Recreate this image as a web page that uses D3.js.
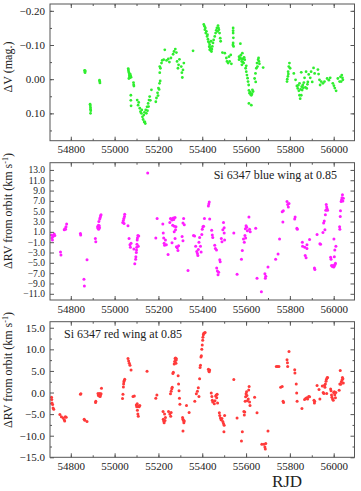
<!DOCTYPE html>
<html>
  <head>
    <meta charset="utf-8">
    <script src="https://d3js.org/d3.v7.min.js"></script>
    <style>
      body { margin: 0; background: #fff; }
      svg text { font-family: "Liberation Serif", "Times New Roman", serif; fill: #222; }
    </style>
  </head>
  <body>
    <div id="chart"></div>
    <script>
      // x range shared by all three panels (RJD)
      var rjdDomain = [54705, 56095];
      var rjdTicks = [54800, 55000, 55200, 55400, 55600, 55800, 56000];

      // panel 1 : delta V (mag.)
      var dvTicks = [-0.20, -0.10, 0.00, 0.10];
      var dvPoints = [
        [54863,-0.026],[54864,-0.022],[54865,-0.019],[54866,-0.024],
        [54888,0.073],[54889,0.078],[54890,0.083],[54890,0.088],[54891,0.092],[54890,0.100],
        [54931,0.003],[54932,0.007],[54933,0.011],
        [55062,-0.031],[55063,-0.027],[55064,-0.022],[55066,-0.018],[55067,-0.012],[55068,-0.008],[55070,-0.004],
        [55071,-0.015],[55073,-0.010],[55075,-0.006],[55065,-0.002],
        [55086,0.010],[55087,0.016],[55088,0.020],
        [55074,0.047],[55074,0.062],[55075,0.078],
        [55103,0.061],[55107,0.076],[55110,0.068],[55115,0.085],[55118,0.095],[55122,0.100],[55124,0.090],
        [55127,0.110],[55130,0.118],[55133,0.105],[55135,0.125],[55138,0.125],[55140,0.130],[55136,0.097],
        [55142,0.090],[55145,0.100],[55148,0.081],[55150,0.092],[55153,0.071],[55155,0.080],[55157,0.061],
        [55160,0.051],[55163,0.062],[55168,0.031],
        [55188,0.066],[55191,0.055],[55196,0.040],[55198,0.048],[55200,0.026],[55203,0.030],[55205,0.012],[55208,0.005],
        [55206,-0.019],[55209,-0.032],[55206,-0.037],[55214,-0.047],[55217,-0.055],[55224,-0.057],[55229,-0.086],
        [55237,-0.055],[55245,-0.059],[55250,-0.050],[55257,-0.062],
        [55267,-0.073],[55271,-0.081],[55277,-0.088],[55282,-0.078],
        [55285,-0.052],[55289,-0.032],[55292,-0.042],[55296,-0.058],[55304,-0.037],[55307,-0.019],[55309,-0.005],
        [55312,-0.027],[55316,-0.047],
        [55358,-0.083],
        [55407,-0.160],[55410,-0.155],[55412,-0.145],[55414,-0.150],[55416,-0.135],[55419,-0.140],[55422,-0.125],
        [55424,-0.130],[55426,-0.117],[55428,-0.110],[55431,-0.107],[55432,-0.095],[55434,-0.101],[55434,-0.086],
        [55436,-0.092],[55437,-0.091],[55439,-0.084],[55440,-0.111],[55442,-0.081],[55444,-0.088],[55446,-0.096],
        [55449,-0.106],[55452,-0.115],
        [55457,-0.125],[55461,-0.135],[55464,-0.143],[55467,-0.150],[55470,-0.140],[55472,-0.157],[55474,-0.150],
        [55476,-0.145],[55479,-0.135],[55482,-0.120],[55484,-0.111],
        [55492,-0.078],
        [55503,-0.076],[55510,-0.062],[55513,-0.052],[55518,-0.047],[55522,-0.066],[55525,-0.052],[55530,-0.071],[55533,-0.045],
        [55541,-0.150],[55541,-0.142],[55541,-0.135],[55542,-0.121],[55541,-0.106],[55543,-0.096],[55540,-0.100],
        [55568,-0.066],[55571,-0.062],[55574,-0.104],[55576,-0.070],[55580,-0.052],[55583,-0.076],[55586,-0.059],
        [55589,-0.047],[55581,-0.042],[55594,-0.057],[55568,-0.057],[55578,-0.060],[55585,-0.050],[55591,-0.064],
        [55598,-0.032],[55601,-0.022],[55604,-0.012],[55607,-0.003],[55609,0.007],[55612,0.017],[55601,-0.039],
        [55613,0.033],[55616,0.041],[55619,0.038],[55621,0.045],[55624,0.047],[55627,0.043],[55632,0.036],[55629,0.031],
        [55613,0.071],[55624,0.076],
        [55639,-0.002],[55643,-0.017],[55644,0.008],[55647,-0.032],[55650,-0.047],[55652,-0.037],[55655,-0.057],
        [55657,-0.062],[55659,-0.052],[55661,-0.045],
        [55678,-0.034],
        [55787,0.007],[55788,0.000],[55791,-0.008],[55792,-0.022],[55793,-0.015],[55795,-0.037],[55798,-0.047],[55801,-0.032],
        [55818,-0.017],[55826,0.002],[55832,0.020],[55836,0.027],[55838,0.018],[55841,0.034],[55844,0.047],[55844,0.012],
        [55847,0.057],[55849,0.030],[55852,0.047],[55852,-0.020],[55854,0.022],[55856,0.032],[55859,0.017],[55861,0.025],
        [55864,0.010],[55867,-0.004],[55871,0.024],[55874,-0.022],[55877,0.027],[55880,0.015],[55882,0.008],
        [55886,-0.014],[55893,-0.004],[55897,-0.022],[55902,0.008],[55908,-0.033],[55913,-0.017],
        [55928,-0.028],[55931,-0.015],[55935,0.002],[55938,0.017],[55943,0.007],
        [55951,0.012],[55958,0.007],[55970,-0.002],[55978,0.003],[55984,-0.004],
        [55996,0.012],[56001,0.019],[56005,0.026],[56011,0.034],
        [56019,-0.002],[56027,0.007],[56031,-0.007],[56034,0.007],[56037,-0.012],[56040,-0.004],[56042,0.002]
      ];

      // panel 2 : Si 6347 blue wing, delta RV (km/s)
      var blueTicks = [13, 11, 9, 7, 5, 3, 1, -1, -3, -5, -7, -9, -11];
      var bluePoints = [
        [54712,0.4],[54714,-0.2],[54716,-0.6],[54719,0.1],[54724,0.6],[54727,0.3],
        [54753,-2.9],[54755,-3.5],
        [54770,1.4],[54773,1.6],[54776,1.5],[54778,2.0],[54781,2.5],
        [54844,0.7],[54845,0.4],
        [54860,-8.2],[54862,-9.5],
        [54874,-4.4],
        [54912,-0.3],[54914,-0.9],
        [54922,2.0],[54924,1.7],[54926,2.3],[54927,1.5],[54928,3.0],[54930,2.2],[54931,1.8],[54932,3.5],[54934,3.8],
        [54936,4.1],[54938,4.3],
        [55037,2.8],[55040,3.2],[55042,3.6],[55043,2.6],[55045,4.0],[55046,4.4],
        [55061,2.2],
        [55066,-0.3],[55070,-1.5],[55072,-2.0],[55075,-1.2],
        [55088,-2.3],[55092,-5.2],
        [55096,-4.3],[55097,-3.8],[55099,-3.0],[55100,-2.5],[55101,-2.0],[55102,-1.4],[55103,-0.6],[55104,-0.2],
        [55106,0.3],[55108,-1.8],[55110,0.2],
        [55151,12.4],
        [55188,-0.2],[55194,3.6],
        [55220,2.5],[55222,0.8],[55224,-0.2],[55226,-1.2],[55228,-1.6],[55232,-0.6],[55236,-1.5],
        [55244,-3.4],
        [55252,2.8],[55255,3.6],[55258,3.5],[55262,3.3],[55265,2.3],[55268,3.7],[55270,3.4],[55273,2.1],[55276,3.8],
        [55278,1.4],[55280,2.0],[55262,-1.1],[55272,1.0],[55276,-0.3],[55282,-1.9],[55286,-2.1],[55289,-2.6],[55292,-1.7],
        [55312,2.7],[55315,3.6],[55318,2.4],[55308,0.1],[55312,-0.7],
        [55335,-6.5],
        [55360,0.3],[55365,0.2],[55370,-1.8],[55375,-2.8],[55378,-3.2],[55380,-3.6],[55382,-2.4],[55385,-1.0],
        [55388,-0.1],[55392,-1.8],[55395,-2.9],[55398,0.5],[55400,1.5],[55403,2.0],[55406,2.1],[55410,3.6],
        [55428,6.0],[55430,6.4],[55432,6.8],[55434,3.5],
        [55443,1.3],[55446,0.4],[55448,-0.1],
        [55457,-1.6],[55460,-2.2],[55465,-2.5],
        [55466,-6.0],[55469,-6.6],[55472,-7.3],[55475,-6.8],
        [55480,-4.4],[55482,-4.8],
        [55487,-0.3],[55490,-0.9],[55494,1.4],[55497,2.8],[55500,1.8],[55500,0.8],[55502,-0.6],
        [55544,0.8],
        [55559,-7.2],
        [55579,-4.3],[55583,-2.6],
        [55588,-0.4],[55592,-1.0],[55595,0.3],[55598,-0.2],[55597,1.6],[55600,2.2],[55603,1.9],[55606,1.2],
        [55613,3.9],[55616,1.5],[55619,1.0],
        [55644,1.7],
        [55650,-8.0],
        [55670,-10.6],
        [55686,-7.1],[55688,-8.0],[55690,-7.6],
        [55700,-5.8],
        [55735,-4.3],[55746,-3.3],[55753,-0.4],
        [55765,4.9],[55768,2.9],[55770,5.1],
        [55787,6.9],[55790,6.3],[55793,5.8],[55796,6.5],
        [55822,3.5],[55824,3.9],[55832,1.7],[55834,1.5],
        [55857,-1.0],[55858,-1.8],
        [55868,-2.0],[55870,-3.6],[55874,-4.0],[55878,-2.2],[55878,-1.5],
        [55890,-0.5],
        [55912,-6.0],[55914,-6.3],
        [55924,0.5],
        [55937,-1.3],[55940,-1.4],
        [55951,0.9],
        [55954,2.7],[55957,3.1],[55960,1.4],[55962,4.3],[55964,5.2],[55966,6.3],[55968,5.8],[55970,5.5],[55972,5.2],
        [55986,-3.9],[55988,-4.3],[55990,-5.5],[55994,-5.7],[55997,-5.5],[56000,-5.8],[56003,-5.6],[56006,-5.3],[56008,-5.1],
        [56001,-0.4],[56003,-3.8],[56005,-2.5],[56010,-1.8],
        [56027,2.0],[56028,1.5],[56030,4.0],[56031,5.1],[56034,6.9],[56036,7.2],[56038,7.6],[56040,8.2],[56042,7.0],[56044,7.5]
      ];

      // panel 3 : Si 6347 red wing, delta RV (km/s)
      var redTicks = [15, 10, 5, 0, -5, -10, -15];
      var redPoints = [
        [54712,-1.1],[54713,-1.6],[54714,-2.4],[54717,-2.8],[54719,-3.6],[54722,-3.9],
        [54750,-5.1],[54757,-5.6],[54765,-5.9],[54770,-6.3],[54772,-6.6],[54775,-5.6],[54779,-5.7],
        [54844,-0.4],[54846,-0.3],
        [54861,-6.2],[54864,-6.4],[54874,-6.7],
        [54913,-2.3],[54914,-2.0],
        [54924,-0.2],[54926,-0.7],[54928,-0.4],[54930,-0.8],[54932,-0.2],[54934,-0.9],[54936,-0.5],[54938,-0.3],[54940,1.0],
        [55036,-1.4],[55038,-0.4],[55040,1.3],[55041,2.0],[55042,2.5],[55044,2.8],[55046,3.1],
        [55061,7.9],[55064,7.3],[55067,6.8],[55070,6.3],[55075,5.2],
        [55084,-0.9],[55090,-0.8],
        [55099,-2.9],[55101,-3.3],[55103,-2.6],[55104,-4.1],[55106,-5.0],[55108,-5.5],[55110,-3.1],[55112,-3.3],[55115,-3.0],
        [55148,4.9],
        [55188,-1.3],[55193,-0.6],
        [55221,-4.4],[55222,-6.2],[55224,-6.6],[55226,-7.0],[55228,-5.0],[55230,-6.5],[55232,-5.8],
        [55246,-4.4],[55252,-5.0],[55256,-5.5],[55258,-4.6],
        [55255,-0.3],[55258,0.3],[55261,0.9],[55263,1.2],[55266,4.4],[55268,4.7],
        [55272,6.6],[55274,7.2],[55276,7.9],[55278,8.0],[55280,7.5],[55282,7.8],[55280,6.8],
        [55290,3.9],[55292,2.0],[55294,0.4],[55296,-1.3],[55298,-2.7],
        [55310,-5.8],[55312,-6.2],[55314,-6.5],[55316,-7.0],[55318,-6.6],[55312,-8.9],
        [55328,-3.0],[55340,-4.6],
        [55366,-2.0],
        [55373,-0.3],[55378,0.3],[55382,1.1],[55385,-0.9],[55388,3.2],
        [55390,5.8],[55392,6.3],[55394,8.2],[55396,8.5],[55398,10.0],[55400,11.0],[55402,12.1],[55403,12.8],
        [55405,13.4],[55407,13.7],[55410,13.8],[55413,13.9],
        [55428,5.4],[55430,5.0],[55432,4.8],[55434,5.2],
        [55441,-0.1],[55444,-0.9],[55446,-1.8],[55448,-2.2],
        [55455,-2.6],[55458,-1.9],[55461,-0.8],[55464,-0.6],[55466,-1.2],[55468,-0.4],[55470,-2.4],
        [55478,-4.7],[55480,-5.3],[55483,-5.9],[55486,-6.3],[55490,-6.0],[55494,-6.7],[55497,-7.2],[55500,-7.6],
        [55502,-5.3],[55499,-9.1],
        [55544,3.0],
        [55559,-5.9],
        [55579,-11.2],[55583,-9.1],
        [55590,-4.4],[55592,-5.2],[55594,-4.5],
        [55596,-2.0],[55598,-1.0],[55600,-0.3],[55602,0.2],[55604,-0.7],[55606,-1.9],[55610,-1.5],[55612,0.6],
        [55614,1.4],[55616,-2.2],[55618,-3.0],
        [55639,-1.1],[55650,-4.7],
        [55672,-12.0],[55682,-12.0],[55686,-12.6],[55688,-13.1],[55690,-11.8],
        [55700,-8.9],
        [55738,6.0],[55744,6.0],[55750,6.0],
        [55758,1.2],[55765,1.4],[55769,-2.0],[55771,-2.3],
        [55787,7.6],[55789,6.9],[55790,6.0],[55796,9.5],
        [55822,5.3],[55823,4.5],[55829,2.0],[55831,-0.1],[55833,-2.0],
        [55855,-3.7],
        [55867,-1.6],[55872,-1.4],[55877,-1.2],[55881,-1.5],[55886,-0.9],[55890,-1.0],
        [55910,-1.8],[55912,-2.4],[55913,-2.0],
        [55924,1.6],[55933,0.7],[55937,-1.5],
        [55948,1.5],[55952,0.0],[55955,-0.2],[55958,1.7],[55960,1.2],[55962,2.0],[55965,2.6],[55967,3.1],
        [55968,-0.2],[55970,3.4],[55972,3.5],
        [55986,0.8],[55988,0.4],[55990,-0.6],[55992,-1.1],[55995,-1.5],[55998,-1.8],[56000,0.0],[56003,0.2],
        [56005,-0.5],[56008,-1.2],[56010,0.0],
        [56025,0.5],[56028,2.0],[56030,5.1],[56032,1.9],[56035,2.5],[56038,2.9],[56040,3.5],[56042,3.2],[56044,2.2]
      ];

      var width = 361, height = 491;
      var left = 50, right = 354.5;

      var svg = d3.select("#chart").append("svg")
                  .attr("width", width)
                  .attr("height", height);

      var x = d3.scaleLinear().domain(rjdDomain).range([left, right]);

      // one function per panel, keeps the three blocks alike
      function panel(top, bottom, yScale, majors, minors, fmt, yFont, pts, color, r){
        var g = svg.append("g");

        // minor ticks first, then majors
        var xMinor = d3.range(54800, 56100, 100);
        g.append("g").attr("transform", "translate(0," + bottom + ")")
          .call(d3.axisBottom(x).tickValues(xMinor).tickSize(-2).tickFormat(""));
        g.append("g").attr("transform", "translate(0," + top + ")")
          .call(d3.axisTop(x).tickValues(xMinor).tickSize(-2).tickFormat(""));
        g.append("g").attr("class", "xlab").attr("transform", "translate(0," + bottom + ")")
          .call(d3.axisBottom(x).tickValues(rjdTicks).tickSize(-4).tickPadding(5).tickFormat(d3.format("d")));
        g.append("g").attr("transform", "translate(0," + top + ")")
          .call(d3.axisTop(x).tickValues(rjdTicks).tickSize(-4).tickFormat(""));

        g.append("g").attr("transform", "translate(" + left + ",0)")
          .call(d3.axisLeft(yScale).tickValues(minors).tickSize(-2).tickFormat(""));
        g.append("g").attr("transform", "translate(" + right + ",0)")
          .call(d3.axisRight(yScale).tickValues(minors).tickSize(-2).tickFormat(""));
        g.append("g").attr("class", "ylab").attr("transform", "translate(" + left + ",0)")
          .call(d3.axisLeft(yScale).tickValues(majors).tickSize(-4).tickPadding(5).tickFormat(fmt));
        g.append("g").attr("transform", "translate(" + right + ",0)")
          .call(d3.axisRight(yScale).tickValues(majors).tickSize(-4).tickFormat(""));

        g.selectAll(".domain").remove();
        g.selectAll(".tick line").attr("stroke", "#555");
        g.selectAll(".tick text")
          .style("font-family", "'Liberation Serif', 'Times New Roman', serif")
          .style("font-size", "11px")
          .attr("fill", "#222");
        g.selectAll(".ylab .tick text").style("font-size", yFont);

        g.append("g").selectAll("circle")
          .data(pts)
          .enter()
          .append("circle")
          .attr("cx", function(d){ return x(d[0]); })
          .attr("cy", function(d){ return yScale(d[1]); })
          .attr("r", r)
          .attr("fill", color);

        g.append("rect")
          .attr("x", left).attr("y", top)
          .attr("width", right - left).attr("height", bottom - top)
          .attr("fill", "none")
          .attr("stroke", "#555")
          .attr("stroke-width", 1);
        return g;
      }

      // panel 1
      var y1 = d3.scaleLinear().domain([-0.22, 0.18]).range([4, 140.7]);
      panel(4, 140.7, y1, dvTicks, d3.range(-0.20, 0.16, 0.05), d3.format(".2f"), "11px", dvPoints, "#2fee2f", 1.4);

      // panel 2 (labels a bit smaller, they sit only 10 px apart)
      var y2 = d3.scaleLinear().domain([-12.2, 14.4]).range([300, 162.7]);
      panel(162.7, 300, y2, blueTicks, [], d3.format(".1f"), "9.5px", bluePoints, "#ff1eff", 1.5);

      // panel 3
      var y3 = d3.scaleLinear().domain([-15, 16.4]).range([457.3, 321.7]);
      panel(321.7, 457.3, y3, redTicks, d3.range(-12.5, 16, 5), d3.format(".1f"), "11px", redPoints, "#ff3a3a", 1.5);

      // axis titles
      svg.append("text")
        .attr("transform", "translate(12,67) rotate(-90)")
        .attr("text-anchor", "middle")
        .style("font-size", "12px")
        .text("\u0394V (mag.)");

      function rvLabel(cy){
        var t = svg.append("text")
          .attr("transform", "translate(12," + cy + ") rotate(-90)")
          .attr("text-anchor", "middle")
          .style("font-size", "12px");
        t.append("tspan").text("\u0394RV from orbit (km s");
        t.append("tspan").attr("dy", -4).style("font-size", "8px").text("-1");
        t.append("tspan").attr("dy", 4).text(")");
      }
      rvLabel(211);
      rvLabel(370);

      svg.append("text")
        .attr("x", 337).attr("y", 179)
        .attr("text-anchor", "end")
        .style("font-size", "12px")
        .text("Si 6347 blue wing at 0.85");

      svg.append("text")
        .attr("x", 64).attr("y", 338)
        .style("font-size", "12px")
        .text("Si 6347 red wing at 0.85");

      svg.append("text")
        .attr("x", 287).attr("y", 487)
        .attr("text-anchor", "middle")
        .style("font-size", "17px")
        .text("RJD");
    </script>
  </body>
</html>
